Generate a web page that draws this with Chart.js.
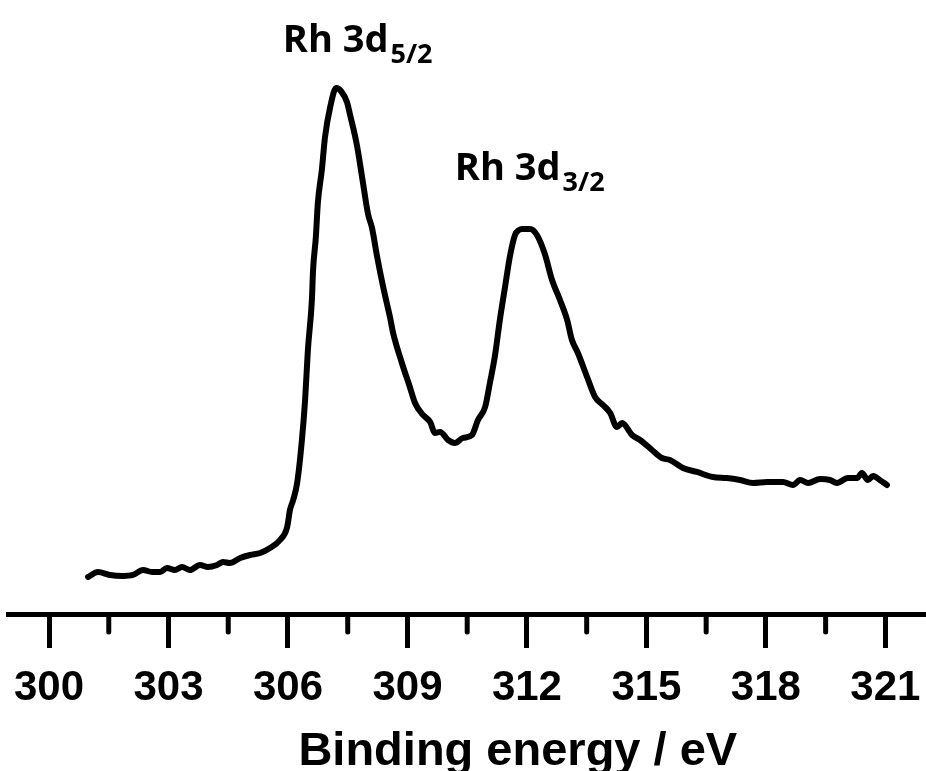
<!DOCTYPE html>
<html>
<head>
<meta charset="utf-8">
<script src="https://cdn.jsdelivr.net/npm/chart.js@4.4.1/dist/chart.umd.min.js"></script>
<style>
  html, body { margin: 0; padding: 0; background: #fff; }
  #wrap { width: 926px; height: 771px; }
</style>
</head>
<body>
<div id="wrap"><canvas id="c" width="926" height="771"></canvas></div>
<script>
// ---- data (binding energy in eV, intensity in counts) ----
const energy = [300.98,301.23,301.53,301.86,302.11,302.36,302.59,302.79,302.96,303.16,303.34,303.54,303.79,303.99,304.22,304.37,304.54,304.80,305.05,305.30,305.55,305.80,305.98,306.05,306.13,306.23,306.35,306.43,306.50,306.60,306.63,306.70,306.75,306.85,306.93,307.06,307.21,307.33,307.48,307.56,307.73,307.88,308.01,308.11,308.24,308.39,308.56,308.64,308.86,309.06,309.19,309.39,309.57,309.69,309.82,310.02,310.19,310.39,310.62,310.77,310.95,311.07,311.20,311.32,311.45,311.57,311.70,311.80,311.88,312.08,312.25,312.45,312.63,312.83,313.01,313.13,313.28,313.51,313.71,313.91,314.09,314.26,314.39,314.64,314.84,315.14,315.39,315.59,315.92,316.27,316.67,317.02,317.35,317.68,318.03,318.43,318.68,318.86,319.06,319.36,319.61,319.78,320.06,320.29,320.41,320.56,320.69,320.86,321.04];
const intensity = [760,860,800,780,800,900,860,860,940,900,960,900,1000,960,1000,1060,1040,1140,1200,1240,1340,1500,1760,2100,2300,2640,3500,4300,5300,6300,6900,7560,8240,8900,9560,10160,10540,10480,10260,10000,9400,8660,8020,7740,7160,6560,5960,5640,5040,4560,4240,4000,3860,3640,3660,3500,3440,3540,3600,3900,4160,4640,5200,5900,6560,7160,7600,7700,7720,7720,7600,7220,6700,6300,5900,5500,5240,4760,4360,4200,4040,3760,3840,3600,3500,3300,3140,3100,2940,2860,2760,2740,2700,2640,2660,2660,2600,2700,2640,2720,2700,2640,2740,2740,2840,2700,2780,2700,2600];
const majorTicks = [300,303,306,309,312,315,318,321];
const minorTicks = [301.5,304.5,307.5,310.5,313.5,316.5,319.5];
const tickLabels = ['300','303','306','309','312','315','318','321'];
const axisTitle = 'Binding energy / eV';
const peakLabels = [
  { main: 'Rh 3d', sub: '5/2', e: 305.87, i: 11260 },
  { main: 'Rh 3d', sub: '3/2', e: 310.19, i: 8700 }
];

const points = energy.map((e, k) => ({ x: e, y: intensity[k] }));
const allTicks = majorTicks.concat(minorTicks).sort((a, b) => a - b);

const extras = {
  id: 'extras',
  afterDraw(chart) {
    const ctx = chart.ctx;
    const xs = chart.scales.x, ys = chart.scales.y;
    const base = chart.chartArea.bottom;
    ctx.save();
    // minor ticks
    ctx.strokeStyle = '#000';
    ctx.lineWidth = 5;
    ctx.lineCap = 'round';
    minorTicks.forEach(v => {
      const px = xs.getPixelForValue(v);
      ctx.beginPath();
      ctx.moveTo(px, base + 2);
      ctx.lineTo(px, base + 17);
      ctx.stroke();
    });
    // axis title
    ctx.fillStyle = '#000';
    ctx.font = 'bold 47px "Liberation Sans", Arial, sans-serif';
    ctx.textAlign = 'center';
    ctx.textBaseline = 'alphabetic';
    ctx.fillText(axisTitle, xs.getPixelForValue(311.77), 765);
    // peak labels
    ctx.textAlign = 'left';
    peakLabels.forEach(p => {
      const px = xs.getPixelForValue(p.e);
      const py = ys.getPixelForValue(p.i);
      ctx.font = 'bold 38px "Open Sans", sans-serif';
      ctx.fillText(p.main, px, py);
      const w = ctx.measureText(p.main).width;
      ctx.font = 'bold 27px "Open Sans", sans-serif';
      ctx.fillText(p.sub, px + w + 2, py + 11);
    });
    ctx.restore();
  }
};

new Chart(document.getElementById('c'), {
  type: 'line',
  data: {
    datasets: [{
      data: points,
      borderColor: '#000',
      borderWidth: 6,
      pointRadius: 0,
      fill: false,
      cubicInterpolationMode: 'monotone',
      borderJoinStyle: 'round',
      borderCapStyle: 'round'
    }]
  },
  options: {
    responsive: false,
    animation: false,
    events: [],
    layout: { padding: { left: 8, right: 0, top: 0, bottom: 43 } },
    plugins: { legend: { display: false }, tooltip: { enabled: false }, title: { display: false } },
    scales: {
      x: {
        type: 'linear',
        position: 'bottom',
        min: 298.97,
        max: 322.02,
        afterBuildTicks: s => { s.ticks = allTicks.map(v => ({ value: v })); },
        border: { display: true, color: '#000', width: 5 },
        grid: {
          display: true,
          drawOnChartArea: false,
          drawTicks: true,
          tickLength: 33,
          tickWidth: 5,
          tickColor: c => (majorTicks.includes(c.tick && c.tick.value) ? '#000' : 'rgba(0,0,0,0)')
        },
        ticks: {
          autoSkip: false,
          maxRotation: 0,
          padding: 5,
          color: '#000',
          font: { family: '"Liberation Sans", Arial, sans-serif', size: 42, weight: 'bold', lineHeight: 1.667 },
          callback: v => { const k = majorTicks.indexOf(v); return k >= 0 ? tickLabels[k] : ''; }
        }
      },
      y: {
        display: false,
        min: 0,
        max: 12300
      }
    }
  },
  plugins: [extras]
});
</script>
</body>
</html>
